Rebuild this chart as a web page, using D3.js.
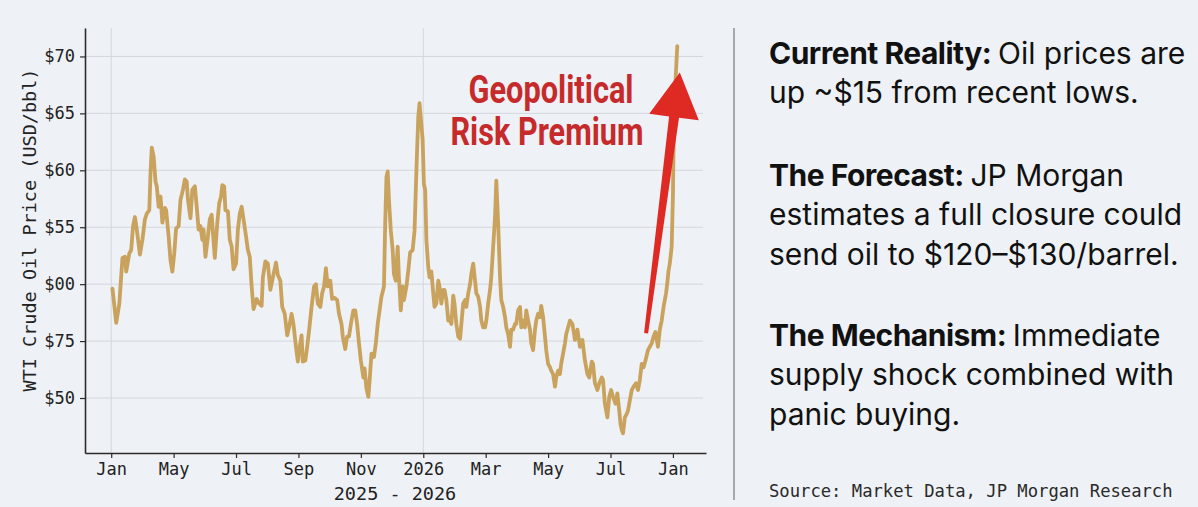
<!DOCTYPE html>
<html>
<head>
<meta charset="utf-8">
<script src="https://cdn.jsdelivr.net/npm/d3@7"></script>
<style>
  body { margin: 0; background: #eef1f5; }
  svg { display: block; }
</style>
</head>
<body>
<svg id="grafico"></svg>
<script>
// x axis: evenly spaced tick labels, positions are tick indexes
const tickLabels = ['Jan', 'May', 'Jul', 'Sep', 'Nov', '2026', 'Mar', 'May', 'Jul', 'Jan'];
const yTicks = [70, 65, 60, 55, 50, 45, 40];
const yTickLabels = ['$70', '$65', '$60', '$55', '$00', '$75', '$50'];

// WTI price, [position on tick scale, USD/bbl]
const wti = [
  [0.02,49.6],[0.08,46.6],[0.13,48.3],[0.18,52.3],[0.22,52.4],[0.24,51.1],[0.29,52.7],[0.32,53.0],
  [0.35,55.1],[0.38,55.9],[0.41,54.8],[0.46,52.6],[0.50,53.9],[0.54,55.7],[0.57,56.2],[0.61,56.5],
  [0.63,59.8],[0.65,62.0],[0.68,61.2],[0.71,59.0],[0.73,58.6],[0.76,56.8],[0.79,57.7],[0.82,55.4],
  [0.86,56.7],[0.88,56.5],[0.92,54.2],[0.95,52.1],[0.98,51.1],[1.01,52.7],[1.04,54.9],[1.08,55.1],
  [1.11,57.4],[1.15,58.3],[1.18,59.2],[1.21,59.0],[1.23,57.4],[1.27,55.8],[1.30,58.3],[1.34,58.6],
  [1.37,56.8],[1.40,54.8],[1.43,55.1],[1.46,53.9],[1.48,54.8],[1.51,52.4],[1.55,54.2],[1.58,55.7],
  [1.61,56.1],[1.63,54.5],[1.66,52.3],[1.70,55.4],[1.73,57.1],[1.76,57.7],[1.78,58.7],[1.81,58.6],
  [1.83,56.5],[1.87,56.4],[1.90,53.9],[1.93,53.3],[1.96,51.3],[2.00,51.8],[2.03,54.8],[2.06,56.2],
  [2.09,56.8],[2.12,55.7],[2.16,54.2],[2.19,53.0],[2.22,52.4],[2.25,49.8],[2.28,47.8],[2.33,48.7],
  [2.37,48.3],[2.41,48.1],[2.43,50.6],[2.47,52.0],[2.51,51.8],[2.55,49.5],[2.59,50.6],[2.64,51.9],
  [2.67,50.8],[2.71,50.3],[2.74,48.0],[2.78,47.4],[2.82,45.5],[2.85,46.2],[2.89,47.4],[2.92,46.5],
  [2.96,44.5],[2.99,43.2],[3.02,44.5],[3.05,45.5],[3.07,43.2],[3.11,43.3],[3.14,44.5],[3.17,45.9],
  [3.21,48.0],[3.25,49.8],[3.28,50.0],[3.31,48.3],[3.35,48.0],[3.38,49.2],[3.41,49.8],[3.44,51.4],
  [3.47,49.8],[3.51,50.3],[3.54,48.7],[3.58,48.8],[3.62,48.6],[3.65,47.4],[3.69,46.5],[3.71,45.4],
  [3.75,44.3],[3.78,45.4],[3.81,45.4],[3.84,46.5],[3.88,47.7],[3.91,47.7],[3.94,46.5],[3.97,44.8],
  [4.00,43.3],[4.04,41.8],[4.06,42.6],[4.09,40.8],[4.12,40.1],[4.14,41.5],[4.17,43.9],[4.21,43.6],
  [4.24,44.8],[4.27,46.5],[4.30,47.7],[4.33,48.9],[4.37,49.8],[4.39,55.3],[4.41,59.4],[4.43,59.9],
  [4.45,57.4],[4.48,54.7],[4.51,53.0],[4.53,50.9],[4.56,50.3],[4.59,53.3],[4.61,50.6],[4.64,47.7],
  [4.67,49.8],[4.69,48.6],[4.73,49.8],[4.76,51.2],[4.79,52.8],[4.83,53.0],[4.86,54.7],[4.89,60.0],
  [4.92,64.7],[4.94,65.9],[4.99,62.7],[5.01,58.8],[5.03,58.3],[5.05,53.9],[5.08,51.5],[5.10,50.6],
  [5.13,51.1],[5.16,49.2],[5.18,48.0],[5.21,48.3],[5.24,50.3],[5.26,49.8],[5.29,48.3],[5.32,49.5],
  [5.34,49.5],[5.37,48.6],[5.40,46.8],[5.42,47.1],[5.45,46.5],[5.48,49.0],[5.50,48.3],[5.53,46.5],
  [5.56,45.4],[5.59,45.2],[5.61,46.5],[5.64,48.3],[5.67,48.6],[5.69,48.0],[5.72,49.2],[5.75,50.0],
  [5.77,50.9],[5.80,51.8],[5.83,50.3],[5.85,49.2],[5.88,48.9],[5.91,48.0],[5.93,46.8],[5.96,46.2],
  [5.99,46.2],[6.01,46.8],[6.04,48.3],[6.07,49.5],[6.09,50.6],[6.12,53.3],[6.15,55.9],[6.17,59.1],
  [6.20,55.3],[6.23,50.6],[6.25,48.6],[6.28,48.0],[6.31,47.1],[6.33,46.2],[6.36,45.6],[6.39,44.5],
  [6.41,46.0],[6.44,46.0],[6.47,46.5],[6.49,46.5],[6.52,47.7],[6.55,48.0],[6.57,46.2],[6.60,46.8],
  [6.63,46.2],[6.65,47.7],[6.68,46.8],[6.71,46.0],[6.73,44.8],[6.76,44.2],[6.79,46.0],[6.81,46.8],
  [6.84,47.4],[6.87,47.1],[6.89,48.1],[6.92,47.1],[6.95,45.4],[6.97,44.2],[7.00,43.0],[7.03,42.7],
  [7.05,42.4],[7.08,42.1],[7.11,41.0],[7.13,41.8],[7.16,42.4],[7.19,42.1],[7.21,43.0],[7.24,43.9],
  [7.27,44.8],[7.29,45.6],[7.32,46.2],[7.35,46.8],[7.39,46.5],[7.43,45.1],[7.47,46.0],[7.51,44.5],
  [7.55,45.1],[7.59,43.3],[7.63,42.1],[7.66,41.8],[7.70,43.2],[7.72,43.0],[7.75,41.3],[7.79,40.7],
  [7.82,41.3],[7.86,41.8],[7.88,41.6],[7.91,39.5],[7.95,38.3],[7.98,40.1],[8.01,40.7],[8.04,40.1],
  [8.08,39.5],[8.11,40.4],[8.14,38.9],[8.16,37.7],[8.18,37.2],[8.20,36.9],[8.23,38.3],[8.26,38.6],
  [8.28,38.9],[8.31,39.8],[8.34,40.7],[8.37,41.0],[8.41,41.3],[8.44,40.7],[8.47,41.6],[8.50,43.0],
  [8.53,42.7],[8.56,43.3],[8.60,44.2],[8.63,44.5],[8.66,44.8],[8.69,45.4],[8.72,45.8],[8.76,44.5],
  [8.79,46.0],[8.82,46.8],[8.85,48.0],[8.89,49.2],[8.91,50.1],[8.93,51.2],[8.95,51.8],[8.98,53.3],
  [9.00,57.7],[9.01,62.1],[9.03,66.5],[9.05,68.8],[9.07,70.9]
];

// arrow from / to, in chart coordinates
const arrowFrom = [8.57, 45.7];
const arrowTo = [9.11, 68.6];

const annotationLines = ['Geopolitical', 'Risk Premium'];

const notes = [
  { head: 'Current Reality:', lines: ['Oil prices are', 'up ~$15 from recent lows.'] },
  { head: 'The Forecast:', lines: ['JP Morgan', 'estimates a full closure could', 'send oil to $120\u2013$130/barrel.'] },
  { head: 'The Mechanism:', lines: ['Immediate', 'supply shock combined with', 'panic buying.'] }
];
const source = 'Source: Market Data, JP Morgan Research';

let largura = 1198, altura = 507;
let mono = '"DejaVu Sans Mono", monospace';

let svg = d3.select('#grafico')
    .attr('width', largura)
    .attr('height', altura);

svg.append('rect').attr('width', largura).attr('height', altura).attr('fill', '#eef1f5');

let margem = { esquerda: 85, superior: 28 };
let larguraPlot = 621, alturaPlot = 425;

let plot = svg.append('g')
    .attr('transform', 'translate(' + margem.esquerda + ',' + margem.superior + ')');

let x = d3.scaleLinear().domain([-0.42, 9.53]).range([0, larguraPlot]);
let y = d3.scaleLinear().domain([35.17, 72.5]).range([alturaPlot, 0]);

// grid
plot.append('g').selectAll('line').data(yTicks).join('line')
    .attr('x1', 0).attr('x2', larguraPlot - 3)
    .attr('y1', d => y(d)).attr('y2', d => y(d))
    .attr('stroke', '#d4d7dd').attr('stroke-width', 1);

plot.append('g').selectAll('line').data([0, 5]).join('line')
    .attr('x1', d => x(d)).attr('x2', d => x(d))
    .attr('y1', 0).attr('y2', alturaPlot)
    .attr('stroke', '#d4d7dd').attr('stroke-width', 1);

// axes
let eixoX = d3.axisBottom(x)
    .tickValues(d3.range(tickLabels.length))
    .tickFormat(i => tickLabels[i])
    .tickSize(5).tickSizeOuter(0).tickPadding(5);

let gx = plot.append('g')
    .attr('transform', 'translate(0,' + alturaPlot + ')')
    .call(eixoX);

let eixoY = d3.axisLeft(y)
    .tickValues(yTicks)
    .tickFormat((d, i) => yTickLabels[i])
    .tickSize(5).tickSizeOuter(0).tickPadding(5);

let gy = plot.append('g').call(eixoY);

[gx, gy].forEach(g => {
    g.select('.domain').attr('stroke', '#2b2b2b').attr('stroke-width', 1.6);
    g.selectAll('.tick line').attr('stroke', '#2b2b2b').attr('stroke-width', 1.2);
    g.selectAll('.tick text')
        .attr('fill', '#222')
        .style('font-family', mono)
        .style('font-size', '17px');
});

// price line
let linha = d3.line()
    .x(d => x(d[0]))
    .y(d => y(d[1]));

plot.append('path')
    .datum(wti)
    .attr('d', linha)
    .attr('fill', 'none')
    .attr('stroke', '#c9a35d')
    .attr('stroke-width', 3.8)
    .attr('stroke-linejoin', 'round')
    .attr('stroke-linecap', 'round');

// axis titles
svg.append('text')
    .attr('transform', 'translate(30,' + (margem.superior + 202) + ') rotate(-90)')
    .attr('text-anchor', 'middle')
    .attr('dy', '0.35em')
    .style('font-family', mono)
    .style('font-size', '18.5px')
    .attr('fill', '#222')
    .text('WTI Crude Oil Price (USD/bbl)');

svg.append('text')
    .attr('x', 395)
    .attr('y', 500)
    .attr('text-anchor', 'middle')
    .style('font-family', mono)
    .style('font-size', '18.5px')
    .attr('fill', '#222')
    .text('2025 - 2026');

// annotation
let anot = [{ cx: 551, base: 103, w: 165 }, { cx: 547, base: 145, w: 193 }];
svg.append('g').selectAll('text').data(annotationLines).join('text')
    .attr('x', (d, i) => anot[i].cx)
    .attr('y', (d, i) => anot[i].base)
    .attr('text-anchor', 'middle')
    .attr('textLength', (d, i) => anot[i].w)
    .attr('lengthAdjust', 'spacingAndGlyphs')
    .style('font-family', 'Roboto, sans-serif')
    .style('font-weight', 700)
    .style('font-size', '38px')
    .attr('fill', '#c62a2a')
    .text(d => d);

// arrow built around the from/to points
let p0 = [margem.esquerda + x(arrowFrom[0]), margem.superior + y(arrowFrom[1])];
let p1 = [margem.esquerda + x(arrowTo[0]), margem.superior + y(arrowTo[1])];
let dx = p1[0] - p0[0], dy = p1[1] - p0[1];
let len = Math.sqrt(dx * dx + dy * dy);
let u = [dx / len, dy / len], n = [-u[1], u[0]];
let headLen = 45, headHalf = 25, shaftTop = 5, shaftTail = 2;
let base = [p1[0] - u[0] * headLen, p1[1] - u[1] * headLen];
let pt = (c, k) => [c[0] + n[0] * k, c[1] + n[1] * k];
let seta = [
    pt(p0, -shaftTail), pt(base, -shaftTop), pt(base, -headHalf), p1,
    pt(base, headHalf), pt(base, shaftTop), pt(p0, shaftTail)
];
svg.append('path')
    .attr('d', 'M' + seta.map(p => p[0].toFixed(1) + ',' + p[1].toFixed(1)).join('L') + 'Z')
    .attr('fill', '#df2a24');

// right panel
svg.append('line')
    .attr('x1', 734).attr('x2', 734)
    .attr('y1', 28).attr('y2', 500)
    .attr('stroke', '#8c8f94').attr('stroke-width', 1.5);

let baselines = [[64, 103], [186, 225.3, 264.6], [346, 385.3, 424.6]];
let painel = svg.append('g').style('font-family', 'Inter, sans-serif').style('font-size', '30px').attr('fill', '#111');

notes.forEach((nota, k) => {
    nota.lines.forEach((l, j) => {
        let t = painel.append('text').attr('x', 769).attr('y', baselines[k][j]);
        if (j === 0) {
            t.append('tspan').style('font-weight', 700).attr('letter-spacing', '-0.5').text(nota.head + ' ');
        }
        t.append('tspan').style('font-weight', 400).text(l);
    });
});

svg.append('text')
    .attr('x', 769).attr('y', 497)
    .style('font-family', mono)
    .style('font-size', '17.2px')
    .attr('fill', '#2a2a2a')
    .text(source);
</script>
</body>
</html>
